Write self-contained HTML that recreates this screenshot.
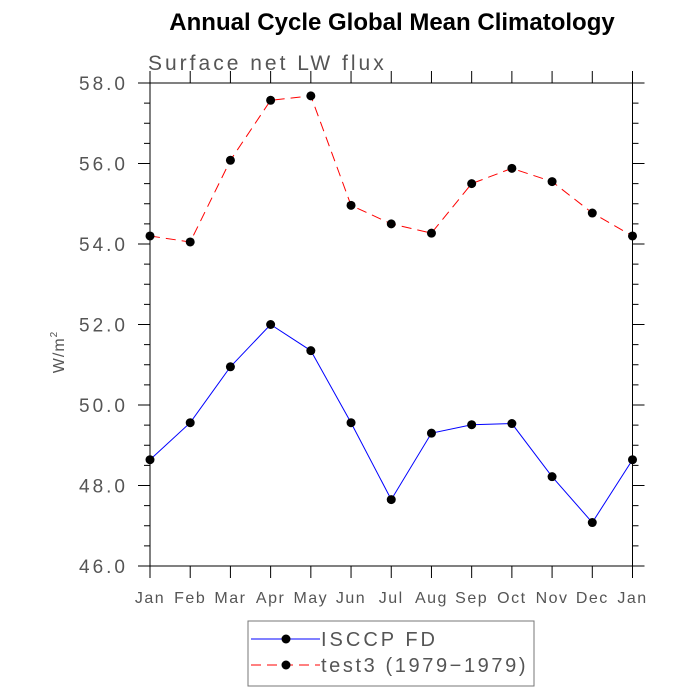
<!DOCTYPE html>
<html><head><meta charset="utf-8"><style>
body{margin:0;background:#fff}
svg{display:block;font-family:"Liberation Sans",sans-serif}
</style></head><body>
<svg id="c" width="700" height="700">
<text x="392" y="30" text-anchor="middle" font-size="24" font-weight="bold">Annual Cycle Global Mean Climatology</text>
<text x="148" y="70" font-size="21" fill="#555" letter-spacing="3">Surface net LW flux</text>
<text transform="translate(64,352) rotate(-90)" text-anchor="middle" font-size="16" fill="#555" letter-spacing="1">W/m<tspan font-size="10" dy="-7">2</tspan></text>
<g id="g"></g>
<rect x="248" y="621" width="286" height="65" fill="none" stroke="#777"/>
<g>
<line x1="251" y1="639" x2="320" y2="639" stroke="blue"/><circle cx="286" cy="639" r="4.5"/>
<text x="321" y="646" font-size="20" fill="#555" letter-spacing="3">ISCCP FD</text></g>
<g>
<line x1="251" y1="665" x2="320" y2="665" stroke="red" stroke-dasharray="10,6"/><circle cx="286" cy="665" r="4.5"/>
<text x="321" y="672" font-size="20" fill="#555" letter-spacing="2.6">test3 (1979−1979)</text></g>
</svg>
<script>
const months=["Jan","Feb","Mar","Apr","May","Jun","Jul","Aug","Sep","Oct","Nov","Dec","Jan"];
const isccp=[48.64,49.56,50.95,52.0,51.35,49.56,47.65,49.3,49.51,49.54,48.22,47.08,48.64];
const test3=[54.2,54.05,56.08,57.57,57.68,54.96,54.5,54.27,55.5,55.88,55.55,54.77,54.2];
const yTicks=["46.0","48.0","50.0","52.0","54.0","56.0","58.0"];
const L=150,R=632.5,T=83,B=566,ymin=46,ymax=58;
const xs=i=>L+(R-L)*i/(months.length-1);
const ys=v=>B-(v-ymin)/(ymax-ymin)*(B-T);
const g=document.getElementById('g');const NS="http://www.w3.org/2000/svg";
function mk(t,a,p){const e=document.createElementNS(NS,t);for(const k in a)e.setAttribute(k,a[k]);(p||g).appendChild(e);return e;}
const fr=mk('rect',{x:L,y:T,width:R-L,height:B-T,fill:'none',stroke:'#000','stroke-width':1});


months.forEach((m,i)=>{const x=xs(i);
 mk('line',{x1:x,y1:B,x2:x,y2:B+12,stroke:'#000'});
 mk('line',{x1:x,y1:T,x2:x,y2:T-12,stroke:'#000'});
 const t=mk('text',{x:x,y:B+37,'text-anchor':'middle','font-size':'16',fill:'#555','letter-spacing':'1.5'});t.textContent=m;
 
 
});
for(let v=ymin;v<=ymax+1e-9;v+=0.5){const y=ys(v);const maj=Math.abs(v%2)<1e-9;const len=maj?12:6;
 mk('line',{x1:L-len,y1:y,x2:L,y2:y,stroke:'#000'});
 mk('line',{x1:R,y1:y,x2:R+len,y2:y,stroke:'#000'});}
yTicks.forEach(s=>{const t=mk('text',{x:L-22,y:ys(parseFloat(s))+7,'text-anchor':'end','font-size':'19','fill':'#555','letter-spacing':'3'});t.textContent=s;
 
 });
function series(d,col,dash,name){
 const p=mk('polyline',{points:d.map((v,i)=>xs(i)+','+ys(v)).join(' '),fill:'none',stroke:col,'stroke-width':1,'stroke-dasharray':dash});
 
 
 d.forEach((v,i)=>{const c=mk('circle',{cx:xs(i),cy:ys(v),r:4.5,fill:'#000'});
  
  });
}
series(test3,'red','10,6','test3');
series(isccp,'blue','none','isccp');
</script>
</body></html>
